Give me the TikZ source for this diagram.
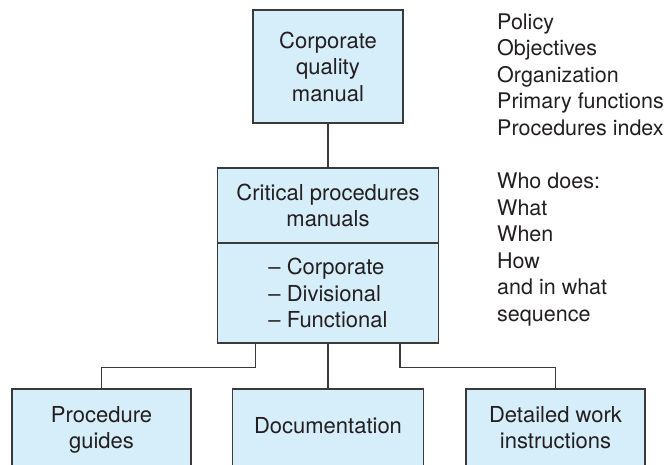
\documentclass[tikz,border=0pt]{standalone}
\usepackage{fontspec}
\setmainfont{TeX Gyre Heros}
\usetikzlibrary{calc}
\definecolor{boxblue}{RGB}{214,237,250}
\definecolor{linegray}{RGB}{58,58,58}
\definecolor{txt}{RGB}{35,31,32}
\begin{document}
\begin{tikzpicture}[x=1pt,y=-1pt,
  box/.style={draw=linegray, fill=boxblue, line width=1.2pt, rectangle, inner sep=0pt,
              text=txt, align=center, font=\fontsize{22}{26.5}\selectfont},
  conn/.style={draw=linegray, line width=1.2pt},
  sidetext/.style={font=\fontsize{21.5}{26.5}\selectfont, text=txt, align=left,
                   anchor=base west, inner sep=0pt}]
\useasboundingbox (0,0) rectangle (666,464);
% top box
\node[box, minimum width=150pt, minimum height=113pt] (top) at (328,66.5)
  {Corporate\\quality\\manual};
% middle box: two parts
\node[box, minimum width=221pt, minimum height=75pt] (up) at (328,205.5)
  {Critical procedures\\manuals};
\node[box, minimum width=221pt, minimum height=100pt, align=left] (low) at (328,293)
  {-- Corporate\\-- Divisional\\-- Functional};
% bottom boxes (run off the bottom edge)
\node[box, minimum width=179pt, minimum height=82pt] (pg) at (101.5,430)
  {Procedure\\guides};
\node[box, minimum width=191pt, minimum height=82pt, text height=15.8pt, text depth=9.8pt] (doc) at (328,430)
  {Documentation};
\node[box, minimum width=179pt, minimum height=82pt, text depth=4.6pt] (dw) at (555.5,430)
  {Detailed work\\instructions};
% connectors
\draw[conn] (top.south) -- (up.north);
\draw[conn] ($(low.south west)!0.172!(low.south east)$) -- ++(0,24) -| (pg.north);
\draw[conn] (low.south) -- (doc.north);
\draw[conn] ($(low.south west)!0.824!(low.south east)$) -- ++(0,24) -| (dw.north);
% side texts (base anchor = baseline of the last line)
\node[sidetext] (s1) at (497,135)
  {Policy\\Objectives\\Organization\\Primary functions\\Procedures index};
\node[sidetext] (s2) at (497,321)
  {Who does:\\What\\When\\How\\and in what\\sequence};
\end{tikzpicture}
\end{document}
